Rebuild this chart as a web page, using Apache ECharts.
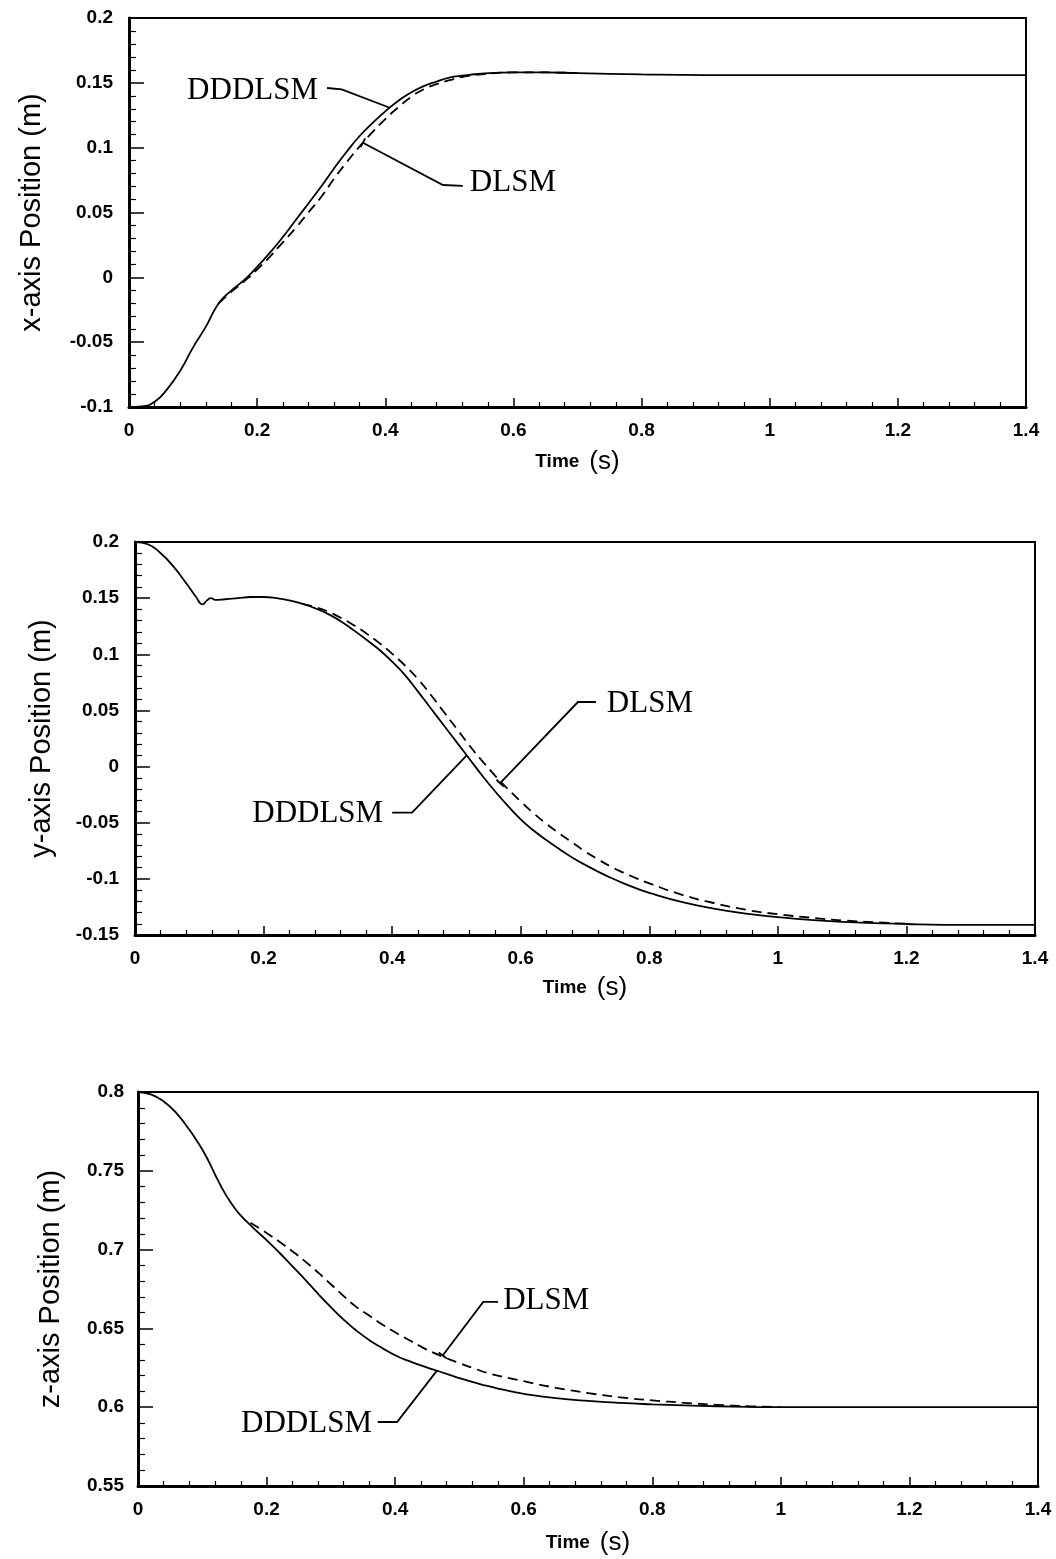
<!DOCTYPE html>
<html>
<head>
<meta charset="utf-8">
<title>Position response: DDDLSM vs DLSM</title>
<script src="https://cdn.jsdelivr.net/npm/echarts@6/dist/echarts.min.js"></script>
<style>
  html, body { margin: 0; padding: 0; background: #fff; }
  #chart { width: 1056px; height: 1559px; }
</style>
</head>
<body>
<div id="chart"></div>
<script>
// ---- x-axis position (m) ----
const xTimeDDDLSM = [0, 0.02, 0.04, 0.06, 0.08, 0.10, 0.12, 0.14, 0.16, 0.18, 0.20, 0.22, 0.24, 0.26, 0.28, 0.30, 0.32, 0.34, 0.36, 0.38, 0.40, 0.42, 0.44, 0.46, 0.48, 0.50, 0.52, 0.55, 0.60, 0.65, 0.70, 0.80, 0.90, 1.0, 1.2, 1.4];
const xPosDDDLSM  = [-0.1, -0.0995, -0.096, -0.086, -0.072, -0.054, -0.038, -0.020, -0.010, -0.002, 0.008, 0.019, 0.031, 0.044, 0.057, 0.070, 0.084, 0.097, 0.109, 0.119, 0.128, 0.136, 0.1425, 0.1475, 0.151, 0.154, 0.1555, 0.157, 0.158, 0.158, 0.1575, 0.1565, 0.156, 0.156, 0.156, 0.156];
const xTimeDLSM = [0.14, 0.16, 0.18, 0.20, 0.22, 0.24, 0.26, 0.28, 0.30, 0.32, 0.34, 0.36, 0.38, 0.40, 0.42, 0.44, 0.46, 0.48, 0.50, 0.52, 0.55, 0.60, 0.65, 0.70];
const xPosDLSM  = [-0.020, -0.011, -0.003, 0.006, 0.016, 0.027, 0.038, 0.050, 0.062, 0.076, 0.089, 0.101, 0.112, 0.122, 0.131, 0.139, 0.145, 0.149, 0.152, 0.1545, 0.1565, 0.158, 0.158, 0.1575];

// ---- y-axis position (m) ----
const yTimeDDDLSM = [0, 0.02, 0.04, 0.06, 0.08, 0.095, 0.105, 0.112, 0.118, 0.125, 0.14, 0.16, 0.18, 0.20, 0.22, 0.24, 0.26, 0.28, 0.30, 0.32, 0.34, 0.36, 0.38, 0.40, 0.42, 0.44, 0.46, 0.48, 0.50, 0.52, 0.54, 0.56, 0.58, 0.60, 0.62, 0.64, 0.66, 0.68, 0.70, 0.72, 0.74, 0.76, 0.78, 0.80, 0.85, 0.90, 0.95, 1.0, 1.05, 1.1, 1.2, 1.3, 1.4];
const yPosDDDLSM  = [0.2, 0.198, 0.19, 0.178, 0.163, 0.151, 0.1445, 0.148, 0.15, 0.1485, 0.149, 0.15, 0.151, 0.151, 0.15, 0.148, 0.145, 0.141, 0.136, 0.1295, 0.1215, 0.113, 0.104, 0.0935, 0.0815, 0.067, 0.052, 0.037, 0.022, 0.007, -0.008, -0.022, -0.035, -0.047, -0.057, -0.0655, -0.0735, -0.081, -0.0875, -0.0935, -0.099, -0.104, -0.1085, -0.1125, -0.1205, -0.1265, -0.131, -0.134, -0.1365, -0.1383, -0.1402, -0.141, -0.141];
const yTimeDLSM = [0.26, 0.28, 0.30, 0.32, 0.34, 0.36, 0.38, 0.40, 0.42, 0.44, 0.46, 0.48, 0.50, 0.52, 0.54, 0.56, 0.58, 0.60, 0.62, 0.64, 0.66, 0.68, 0.70, 0.72, 0.74, 0.76, 0.78, 0.80, 0.85, 0.90, 0.95, 1.0, 1.05, 1.1, 1.2];
const yPosDLSM  = [0.145, 0.142, 0.138, 0.1325, 0.126, 0.1185, 0.110, 0.1005, 0.090, 0.078, 0.064, 0.049, 0.034, 0.019, 0.005, -0.008, -0.020, -0.031, -0.0415, -0.051, -0.0595, -0.0675, -0.0755, -0.0825, -0.089, -0.0945, -0.0995, -0.104, -0.114, -0.1215, -0.1275, -0.1315, -0.1345, -0.137, -0.140];

// ---- z-axis position (m) ----
const zTimeDDDLSM = [0, 0.02, 0.04, 0.06, 0.08, 0.09, 0.10, 0.11, 0.12, 0.13, 0.14, 0.15, 0.16, 0.18, 0.20, 0.22, 0.24, 0.26, 0.28, 0.30, 0.32, 0.34, 0.36, 0.38, 0.40, 0.42, 0.44, 0.46, 0.48, 0.50, 0.52, 0.54, 0.56, 0.58, 0.60, 0.65, 0.70, 0.75, 0.80, 0.85, 0.90, 0.95, 1.0, 1.2, 1.4];
const zPosDDDLSM  = [0.800, 0.7985, 0.794, 0.7865, 0.776, 0.770, 0.7635, 0.756, 0.7475, 0.7395, 0.7325, 0.7265, 0.7215, 0.7135, 0.706, 0.698, 0.6895, 0.681, 0.672, 0.6635, 0.6555, 0.6485, 0.6425, 0.6375, 0.633, 0.6295, 0.6265, 0.6238, 0.6212, 0.6185, 0.616, 0.6138, 0.6118, 0.610, 0.6085, 0.6058, 0.604, 0.6027, 0.6018, 0.6011, 0.6006, 0.6002, 0.600, 0.600, 0.600];
const zTimeDLSM = [0.175, 0.20, 0.22, 0.24, 0.26, 0.28, 0.30, 0.32, 0.34, 0.36, 0.38, 0.40, 0.42, 0.44, 0.46, 0.48, 0.50, 0.52, 0.55, 0.60, 0.65, 0.70, 0.75, 0.80, 0.85, 0.90, 0.95, 1.0];
const zPosDLSM  = [0.717, 0.7105, 0.705, 0.699, 0.6925, 0.6855, 0.678, 0.6705, 0.6635, 0.658, 0.6525, 0.6475, 0.643, 0.6385, 0.6345, 0.631, 0.628, 0.625, 0.621, 0.6165, 0.6123, 0.609, 0.6063, 0.6043, 0.6028, 0.6015, 0.6006, 0.600];

// Axis ranges and titles for the three stacked panels
const panelTitles = ['x-axis Position (m)', 'y-axis Position (m)', 'z-axis Position (m)'];
const panelMin = [-0.1, -0.15, 0.55];
const panelMax = [0.2, 0.2, 0.8];

// Callout labels, anchored in data units (time, position)
const callouts = [
  [
    { label: 'DDDLSM', text: [0.295, 0.1437], align: 'right', path: [[0.309, 0.146], [0.332, 0.145], [0.407, 0.1308]], tick: false },
    { label: 'DLSM', text: [0.532, 0.0728], align: 'left', path: [[0.521, 0.0705], [0.49, 0.0712], [0.365, 0.1038]], tick: true }
  ],
  [
    { label: 'DLSM', text: [0.734, 0.0557], align: 'left', path: [[0.717, 0.0575], [0.689, 0.0575], [0.568, -0.0148]], tick: true },
    { label: 'DDDLSM', text: [0.386, -0.042], align: 'right', path: [[0.40, -0.041], [0.431, -0.041], [0.516, 0.010]], tick: false }
  ],
  [
    { label: 'DLSM', text: [0.568, 0.6674], align: 'left', path: [[0.56, 0.6668], [0.537, 0.6668], [0.474, 0.6328]], tick: true },
    { label: 'DDDLSM', text: [0.364, 0.5893], align: 'right', path: [[0.373, 0.5906], [0.403, 0.5906], [0.465, 0.6232]], tick: false }
  ]
];

const zip = (ts, vs) => ts.map((t, i) => [t, vs[i]]);
const curves = [
  { solid: zip(xTimeDDDLSM, xPosDDDLSM), dashed: zip(xTimeDLSM, xPosDLSM) },
  { solid: zip(yTimeDDDLSM, yPosDDDLSM), dashed: zip(yTimeDLSM, yPosDLSM) },
  { solid: zip(zTimeDDDLSM, zPosDDDLSM), dashed: zip(zTimeDLSM, zPosDLSM) }
];

const grids = [
  { left: 129, top: 18, width: 897, height: 389 },
  { left: 135, top: 542, width: 900, height: 393 },
  { left: 138, top: 1092, width: 900, height: 394 }
];
const yNameGap = [83, 79, 73];
const yLabelMargin = [16, 16, 14];
const xNameGap = [42, 40, 44];

const tickFont = { color: '#000', fontFamily: '"Liberation Sans", Arial, sans-serif', fontWeight: 'bold', fontSize: 19 };

function calloutSeries(idx) {
  const items = callouts[idx];
  return {
    type: 'custom',
    xAxisIndex: idx,
    yAxisIndex: idx,
    silent: true,
    z: 5,
    data: items.map(c => c.text),
    renderItem(params, api) {
      const c = items[params.dataIndex];
      const tp = api.coord(c.text);
      const pts = c.path.map(p => api.coord(p));
      const children = [
        { type: 'polyline', shape: { points: pts }, style: { stroke: '#000', lineWidth: 1.8, fill: null } },
        { type: 'text', x: tp[0], y: tp[1],
          style: { text: c.label, fontFamily: '"Liberation Serif", "Times New Roman", serif', fontSize: 31,
                   fill: '#000', align: c.align, verticalAlign: 'middle' } }
      ];
      if (c.tick) {
        const a = pts[pts.length - 2], b = pts[pts.length - 1];
        const dx = b[0] - a[0], dy = b[1] - a[1], L = Math.hypot(dx, dy);
        const nx = -dy / L * 5, ny = dx / L * 5;
        children.push({ type: 'line', shape: { x1: b[0] - nx, y1: b[1] - ny, x2: b[0] + nx, y2: b[1] + ny },
                        style: { stroke: '#000', lineWidth: 1.8 } });
      }
      return { type: 'group', children };
    }
  };
}

const series = [];
[0, 1, 2].forEach(i => {
  series.push({
    name: 'DLSM', type: 'line', xAxisIndex: i, yAxisIndex: i, data: curves[i].dashed,
    showSymbol: false, smooth: 0.5, silent: true, z: 2,
    lineStyle: { color: '#000', width: 1.8, type: [10, 6] }
  });
  series.push({
    name: 'DDDLSM', type: 'line', xAxisIndex: i, yAxisIndex: i, data: curves[i].solid,
    showSymbol: false, smooth: 0.5, silent: true, z: 3,
    lineStyle: { color: '#000', width: 1.8 }
  });
  series.push(calloutSeries(i));
});

const option = {
  animation: false,
  backgroundColor: '#fff',
  grid: grids.map(g => Object.assign({ show: true, borderColor: '#000', borderWidth: 2, backgroundColor: 'transparent', outerBoundsMode: 'none' }, g)),
  xAxis: [0, 1, 2].map(i => ({
    gridIndex: i, type: 'value', min: 0, max: 1.4, interval: 0.2,
    name: '{t|Time}   {s|(s)}', nameLocation: 'middle', nameGap: xNameGap[i],
    nameTextStyle: {
      rich: {
        t: { fontFamily: '"Liberation Sans", Arial, sans-serif', fontWeight: 'bold', fontSize: 19, color: '#000' },
        s: { fontFamily: '"Liberation Sans", Arial, sans-serif', fontSize: 26, color: '#000' }
      }
    },
    axisLine: { onZero: false, lineStyle: { color: '#000', width: 3 } },
    axisTick: { inside: true, length: 9, lineStyle: { color: '#000', width: 1.5 } },
    minorTick: { show: true, splitNumber: 5, length: 5, lineStyle: { color: '#000', width: 1.2 } },
    splitLine: { show: false },
    minorSplitLine: { show: false },
    axisLabel: Object.assign({ margin: 14 }, tickFont)
  })),
  yAxis: [0, 1, 2].map(i => ({
    gridIndex: i, type: 'value', min: panelMin[i], max: panelMax[i], interval: 0.05,
    name: panelTitles[i], nameLocation: 'middle', nameGap: yNameGap[i],
    nameTextStyle: { fontFamily: '"Liberation Sans", Arial, sans-serif', fontSize: 29, color: '#000' },
    axisLine: { onZero: false, lineStyle: { color: '#000', width: 3 } },
    axisTick: { inside: true, length: 15, lineStyle: { color: '#000', width: 1.5 } },
    minorTick: { show: true, splitNumber: 5, length: 7, lineStyle: { color: '#000', width: 1.2 } },
    splitLine: { show: false },
    minorSplitLine: { show: false },
    axisLabel: Object.assign({ margin: yLabelMargin[i] }, tickFont)
  })),
  series
};

const chart = echarts.init(document.getElementById('chart'), null, { renderer: 'canvas' });
chart.setOption(option);
</script>
</body>
</html>
